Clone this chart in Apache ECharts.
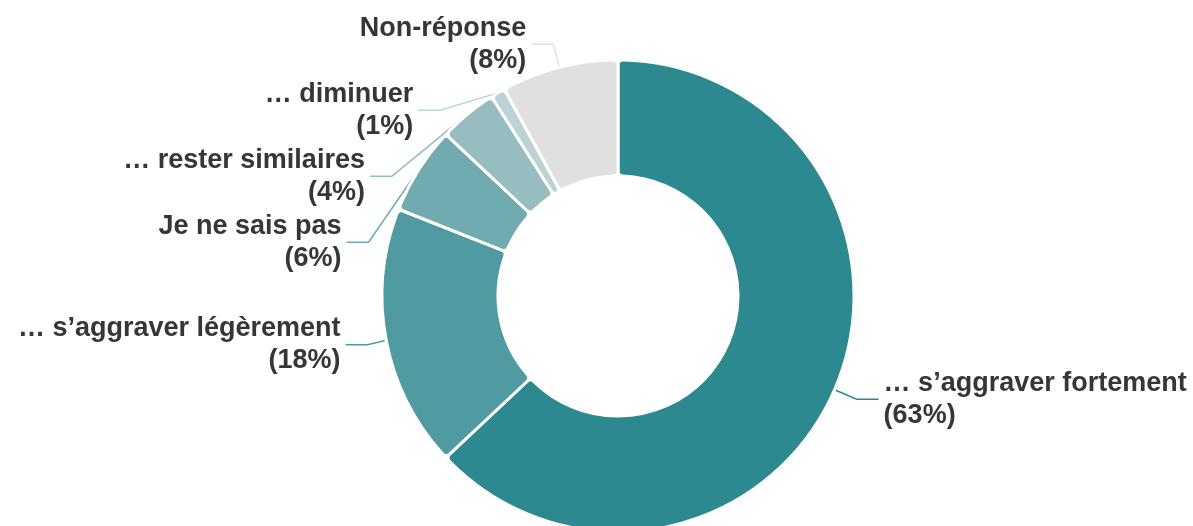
<!DOCTYPE html>
<html>
<head>
<meta charset="utf-8">
<script src="https://cdn.jsdelivr.net/npm/echarts@6/dist/echarts.min.js"></script>
<style>
  html, body { margin: 0; padding: 0; background: #fff; }
  #chart { width: 1193px; height: 526px; }
</style>
</head>
<body>
<div id="chart"></div>
<script>
// réponses (ordre horaire depuis midi)
var categories = [
    '… s’aggraver fortement',
    '… s’aggraver légèrement',
    'Je ne sais pas',
    '… rester similaires',
    '… diminuer',
    'Non-réponse'
];
var values = [63, 18, 6, 4, 1, 8];

var palette = ['#2d8990', '#4f9ba1', '#72abaf', '#97bdc1', '#bcd3d5', '#e0e0e0'];

var pieData = categories.map(function (name, i) {
    return { name: name, value: values[i] };
});

var myChart = echarts.init(document.getElementById('chart'), null, { renderer: 'canvas' });

myChart.setOption({
    animation: false,
    color: palette,
    series: [{
        type: 'pie',
        center: [618, 296],
        radius: [120, 236],
        startAngle: 90,
        clockwise: true,
        avoidLabelOverlap: true,
        itemStyle: {
            borderColor: '#ffffff',
            borderWidth: 3,
            borderRadius: 5
        },
        label: {
            show: true,
            position: 'outside',
            formatter: '{b}\n({c}%)',
            fontFamily: 'Liberation Sans, Arial, sans-serif',
            fontWeight: 'bold',
            fontSize: 27,
            lineHeight: 32,
            padding: 0,
            bleedMargin: 0,
            overflow: 'none',
            color: '#363636'
        },
        labelLine: {
            show: true,
            length: 24,
            length2: 22,
            lineStyle: { width: 1.5 }
        },
        data: pieData
    }]
});
</script>
</body>
</html>
